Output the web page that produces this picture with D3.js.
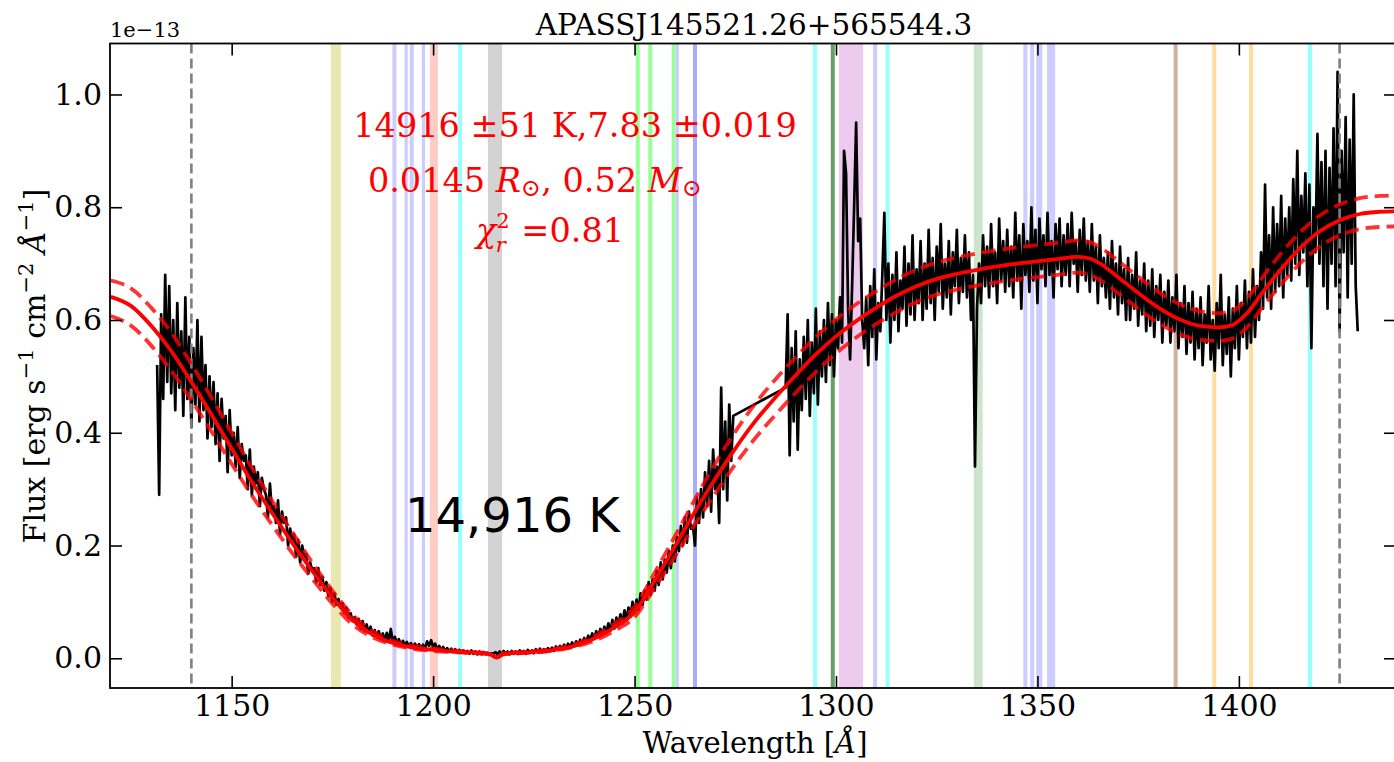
<!DOCTYPE html>
<html><head><meta charset="utf-8">
<script src="https://cdn.jsdelivr.net/npm/d3@7"></script>
<style>body{margin:0;background:#fff} svg{display:block}</style>
</head><body><svg id="c" width="1394" height="762"></svg>
<script>
// ---------------- data ----------------
const title = "APASSJ145521.26+565544.3";
const xTicks = [1150, 1200, 1250, 1300, 1350, 1400];
const yTicks = [0.0, 0.2, 0.4, 0.6, 0.8, 1.0];
const yScaleLabel = "1e\u221213";

// line-identification spans (Angstrom) and colours
const bandStart = [1174.6,1189.9,1192.9,1194.2,1197.2,1199.2,1206.2,1213.6,1250.3,1253.4,1259.2,1260.2,1264.5,1294.3,1298.7,1300.7,1309.2,1312.3,1334.2,1346.5,1348.2,1349.7,1352.4,1383.8,1393.4,1402.5,1417.1];
const bandEnd   = [1177.1,1190.9,1193.7,1195.2,1198.0,1201.2,1207.2,1217.1,1251.3,1254.4,1260.2,1261.0,1265.5,1295.3,1299.7,1306.7,1310.2,1313.3,1336.4,1347.5,1349.2,1351.2,1354.4,1384.8,1394.4,1403.5,1418.2];
const bandColor = ["#e8e8b0","#ccccff","#ccccff","#ccccff","#ccccff","#ffccc6","#99ffff","#d3d3d3","#99ff99","#99ff99","#99ff99","#ccccff","#aaaaff","#99ffff","#66a066","#eccbee","#ccccff","#99ffff","#cce5cc","#ccccff","#ccccff","#ccccff","#ccccff","#d4b0a0","#ffdca0","#ffdca0","#99ffff"];

// airglow / edge markers
const refLines = [1140, 1425];

// model spectrum (x 1e-13) and its upper / lower envelopes
const modelWave  = [1120,1125,1130,1135,1140,1145,1150,1155,1160,1165,1170,1175,1180,1185,1190,1195,1200,1205,1210,1214,1215.7,1217.5,1222,1228,1235,1240,1245,1250,1255,1260,1265,1270,1275,1280,1285,1290,1295,1300,1305,1310,1315,1320,1325,1330,1335,1340,1345,1350,1355,1360,1363,1366,1370,1375,1380,1385,1390,1395,1398,1402,1406,1410,1415,1420,1425,1430,1435,1440];
const modelFlux  = [0.641,0.625,0.590,0.545,0.490,0.432,0.372,0.313,0.258,0.205,0.155,0.108,0.068,0.042,0.027,0.019,0.015,0.012,0.010,0.008,0.001,0.008,0.010,0.013,0.022,0.035,0.055,0.082,0.138,0.198,0.260,0.318,0.372,0.421,0.463,0.502,0.539,0.571,0.598,0.622,0.643,0.660,0.673,0.682,0.689,0.695,0.700,0.704,0.708,0.712,0.709,0.698,0.676,0.648,0.622,0.602,0.590,0.587,0.590,0.612,0.650,0.686,0.726,0.757,0.777,0.788,0.792,0.793];
const modelUpper = [0.670,0.656,0.622,0.578,0.522,0.462,0.400,0.338,0.280,0.224,0.170,0.120,0.077,0.048,0.031,0.022,0.017,0.014,0.011,0.009,0.002,0.009,0.011,0.015,0.025,0.039,0.061,0.091,0.152,0.216,0.282,0.345,0.402,0.452,0.495,0.534,0.570,0.601,0.628,0.651,0.672,0.689,0.702,0.711,0.718,0.724,0.729,0.733,0.737,0.741,0.738,0.727,0.705,0.677,0.650,0.629,0.616,0.612,0.615,0.638,0.677,0.714,0.754,0.785,0.805,0.816,0.820,0.821];
const modelLower = [0.607,0.590,0.555,0.510,0.458,0.402,0.345,0.289,0.237,0.187,0.141,0.097,0.060,0.037,0.024,0.017,0.013,0.011,0.009,0.007,0.001,0.007,0.009,0.012,0.020,0.031,0.049,0.073,0.125,0.180,0.238,0.292,0.344,0.391,0.432,0.471,0.508,0.541,0.569,0.593,0.614,0.632,0.645,0.654,0.661,0.667,0.672,0.676,0.680,0.684,0.680,0.669,0.648,0.620,0.595,0.576,0.565,0.563,0.566,0.587,0.624,0.659,0.699,0.730,0.750,0.761,0.765,0.766];

// observed spectrum (x 1e-13), two detector segments sampled every 0.5 A
const specStep = 0.5;
const specAStart = 1131.5;
const specA = [
0.52,0.29,0.61,0.46,0.68,0.49,0.66,0.47,0.60,0.44,
0.63,0.48,0.58,0.43,0.64,0.46,0.57,0.41,0.55,0.45,
0.60,0.42,0.57,0.44,0.52,0.39,0.50,0.41,0.49,0.38,
0.47,0.35,0.46,0.39,0.43,0.33,0.44,0.36,0.40,0.34,
0.41,0.32,0.38,0.35,0.36,0.30,0.37,0.29,0.34,0.31,
0.33,0.27,0.32,0.30,0.29,0.25,0.31,0.26,0.27,0.24,
0.28,0.22,0.26,0.24,0.25,0.20,0.23,0.21,0.22,0.18,
0.21,0.17,0.20,0.18,0.185,0.15,0.17,0.155,0.16,0.135,
0.16,0.13,0.145,0.12,0.135,0.11,0.125,0.10,0.115,0.095,
0.105,0.09,0.098,0.08,0.09,0.072,0.08,0.066,0.073,0.06,
0.07,0.052,0.066,0.048,0.06,0.045,0.056,0.04,0.05,0.038,
0.048,0.035,0.044,0.032,0.045,0.03,0.052,0.028,0.038,0.026,
0.034,0.024,0.031,0.022,0.029,0.021,0.027,0.02,0.026,0.018,
0.025,0.018,0.024,0.017,0.03,0.022,0.032,0.02,0.026,0.016,
0.022,0.014,0.02,0.013,0.018,0.012,0.017,0.011,0.016,0.01,
0.015,0.01,0.014,0.009,0.013,0.008,0.014,0.008,0.012,0.007,
0.012,0.007,0.011,0.008,0.010,0.006,0.009,0.008,0.011,0.006,
0.012,0.007,0.013,0.008,0.012,0.007,0.013,0.008,0.012,0.008,
0.014,0.009,0.013,0.008,0.015,0.01,0.014,0.009,0.016,0.011,
0.017,0.011,0.016,0.012,0.018,0.013,0.019,0.013,0.021,0.015,
0.022,0.016,0.024,0.018,0.026,0.019,0.028,0.021,0.03,0.023,
0.033,0.026,0.036,0.029,0.04,0.032,0.044,0.035,0.048,0.038,
0.052,0.041,0.056,0.045,0.062,0.049,0.068,0.053,0.072,0.058,
0.078,0.062,0.085,0.068,0.09,0.074,0.1,0.08,0.104,0.086,
0.115,0.095,0.12,0.104,0.135,0.112,0.14,0.12,0.155,0.13,
0.17,0.14,0.175,0.152,0.19,0.16,0.2,0.172,0.215,0.19,
0.235,0.2,0.25,0.205,0.26,0.23,0.235,0.2,0.285,0.24,
0.3,0.25,0.33,0.27,0.35,0.26,0.37,0.3,0.34,0.24,
0.48,0.3,0.42,0.28,0.45,0.35,0.43];
const specBStart = 1287.5;
const specB = [
0.48,0.61,0.36,0.55,0.42,0.58,0.37,0.53,0.44,0.57,
0.46,0.6,0.43,0.56,0.47,0.62,0.45,0.58,0.5,0.6,
0.49,0.63,0.52,0.61,0.5,0.6,0.55,0.64,0.56,0.90,
0.86,0.62,0.53,0.66,0.80,0.95,0.74,0.78,0.60,0.55,
0.64,0.52,0.66,0.57,0.69,0.53,0.63,0.58,0.68,0.79,
0.6,0.7,0.56,0.68,0.6,0.72,0.58,0.67,0.62,0.73,
0.59,0.7,0.61,0.75,0.6,0.69,0.63,0.74,0.6,0.7,
0.62,0.76,0.63,0.71,0.6,0.73,0.65,0.77,0.62,0.7,
0.64,0.74,0.61,0.72,0.66,0.76,0.63,0.71,0.65,0.75,
0.64,0.72,0.6,0.68,0.34,0.62,0.7,0.63,0.75,0.66,
0.73,0.64,0.77,0.66,0.72,0.63,0.78,0.67,0.74,0.65,
0.76,0.66,0.73,0.64,0.79,0.67,0.75,0.62,0.77,0.68,
0.74,0.65,0.8,0.67,0.76,0.63,0.78,0.69,0.75,0.66,
0.79,0.68,0.74,0.64,0.77,0.69,0.78,0.66,0.75,0.68,
0.77,0.66,0.79,0.7,0.74,0.65,0.76,0.68,0.78,0.67,
0.74,0.65,0.77,0.67,0.73,0.63,0.75,0.66,0.71,0.64,
0.72,0.62,0.74,0.64,0.7,0.61,0.73,0.63,0.69,0.6,
0.71,0.6,0.68,0.62,0.72,0.59,0.67,0.61,0.7,0.58,
0.67,0.59,0.69,0.57,0.66,0.6,0.68,0.56,0.65,0.59,
0.67,0.56,0.64,0.58,0.68,0.55,0.63,0.57,0.66,0.54,
0.63,0.56,0.65,0.53,0.62,0.55,0.64,0.52,0.61,0.56,
0.66,0.53,0.6,0.51,0.63,0.55,0.68,0.52,0.61,0.54,
0.64,0.5,0.62,0.55,0.66,0.53,0.63,0.57,0.67,0.55,
0.65,0.56,0.69,0.57,0.66,0.6,0.72,0.62,0.84,0.64,
0.75,0.62,0.8,0.65,0.77,0.66,0.82,0.64,0.78,0.68,
0.8,0.67,0.85,0.7,0.9,0.68,0.82,0.72,0.86,0.66,
0.84,0.55,0.8,0.72,0.93,0.7,0.88,0.66,0.9,0.62,
0.87,0.7,0.94,0.66,1.04,0.58,0.9,0.72,0.96,0.64,
0.92,0.7,1.0,0.66,0.58];

const fitLines = ["14916 \u00B151 K,7.83 \u00B10.019"];
const tempLabel = "14,916 K";

// ---------------- drawing ----------------
const m = {l: 110, r: 1396, t: 43.5, b: 688};
const serif = "'DejaVu Serif', serif";
const svg = d3.select("#c");

const x = d3.scaleLinear().domain([1119.8, 1439.0]).range([m.l, m.r]);
const y = d3.scaleLinear().domain([-0.0527, 1.0904]).range([m.b, m.t]);

svg.append("defs").append("clipPath").attr("id", "plot")
  .append("rect").attr("x", m.l).attr("y", m.t).attr("width", m.r - m.l).attr("height", m.b - m.t);

const plot = svg.append("g").attr("clip-path", "url(#plot)");

// bands
plot.selectAll("rect.band").data(bandStart.map((s, i) => ({s, e: bandEnd[i], c: bandColor[i]})))
  .join("rect").attr("class", "band")
  .attr("x", d => x(d.s)).attr("width", d => x(d.e) - x(d.s))
  .attr("y", m.t).attr("height", m.b - m.t).attr("fill", d => d.c);

// spectrum
const spec = specA.map((v, i) => [specAStart + i * specStep, v])
  .concat(specB.map((v, i) => [specBStart + i * specStep, v]));
plot.append("path").datum(spec)
  .attr("d", d3.line().x(d => x(d[0])).y(d => y(d[1])))
  .attr("fill", "none").attr("stroke", "#000").attr("stroke-width", 2.7).attr("stroke-linejoin", "round");

// reference dashed lines
plot.selectAll("line.ref").data(refLines).join("line").attr("class", "ref")
  .attr("x1", d => x(d)).attr("x2", d => x(d)).attr("y1", m.t).attr("y2", m.b)
  .attr("stroke", "#808080").attr("stroke-width", 2.6).attr("stroke-dasharray", "10,5");

// model
const mline = () => d3.line().curve(d3.curveMonotoneX)
  .x((d, i) => x(modelWave[i])).y(d => y(d));
plot.append("path").datum(modelFlux).attr("d", mline())
  .attr("fill", "none").attr("stroke", "#ff0000").attr("stroke-width", 3.8);
[modelUpper, modelLower].forEach(arr => {
  plot.append("path").datum(arr).attr("d", mline())
    .attr("fill", "none").attr("stroke", "#ff0000").attr("stroke-opacity", 0.8)
    .attr("stroke-width", 3.8).attr("stroke-dasharray", "14,7");
});

// axes
const tickFont = 30;
function styleAxis(g) {
  g.select(".domain").remove();
  g.selectAll("line").attr("stroke", "#000").attr("stroke-width", 1.6);
  g.selectAll("text").attr("font-family", serif).attr("font-size", tickFont).attr("fill", "#000");
}
svg.append("g").attr("transform", `translate(0,${m.b})`)
  .call(d3.axisBottom(x).tickValues(xTicks).tickFormat(d3.format("d")).tickSizeInner(-12).tickSizeOuter(0).tickPadding(7))
  .call(styleAxis);
svg.append("g").attr("transform", `translate(0,${m.t})`)
  .call(d3.axisTop(x).tickValues(xTicks).tickFormat("").tickSizeInner(-12).tickSizeOuter(0))
  .call(styleAxis);
svg.append("g").attr("transform", `translate(${m.l},0)`)
  .call(d3.axisLeft(y).tickValues(yTicks).tickFormat(d3.format(".1f")).tickSizeInner(-12).tickSizeOuter(0).tickPadding(8))
  .call(styleAxis);
svg.append("g").attr("transform", `translate(${m.r},0)`)
  .call(d3.axisRight(y).tickValues(yTicks).tickFormat("").tickSizeInner(-12).tickSizeOuter(0))
  .call(styleAxis);

// frame
svg.append("rect").attr("x", m.l).attr("y", m.t).attr("width", m.r - m.l).attr("height", m.b - m.t)
  .attr("fill", "none").attr("stroke", "#000").attr("stroke-width", 1.8);

// offset label
svg.append("text").attr("x", m.l).attr("y", 37).attr("font-family", serif).attr("font-size", 21)
  .text(yScaleLabel);

// title
svg.append("text").attr("x", 754).attr("y", 35).attr("text-anchor", "middle")
  .attr("font-family", serif).attr("font-size", 29.5).text(title);

// x label
const xl = svg.append("text").attr("x", 755).attr("y", 753).attr("text-anchor", "middle")
  .attr("font-family", serif).attr("font-size", 29);
xl.append("tspan").text("Wavelength [");
xl.append("tspan").attr("font-style", "italic").text("\u00C5");
xl.append("tspan").text("]");

// y label
const ys = 21, yd = 12;
const yl = svg.append("text").attr("transform", "translate(45,366) rotate(-90)").attr("text-anchor", "middle")
  .attr("font-family", serif).attr("font-size", 30);
yl.append("tspan").text("Flux [erg s");
yl.append("tspan").attr("font-size", ys).attr("dy", -yd).text("\u22121");
yl.append("tspan").attr("dy", yd).text(" cm");
yl.append("tspan").attr("font-size", ys).attr("dy", -yd).text("\u22122");
yl.append("tspan").attr("dy", yd).text(" ");
yl.append("tspan").attr("font-style", "italic").text("\u00C5");
yl.append("tspan").attr("font-size", ys).attr("dy", -yd).text("\u22121");
yl.append("tspan").attr("dy", yd).text("]");

// fit annotation (red)
const rf = 33.5;
svg.append("text").attr("x", 575).attr("y", 137).attr("text-anchor", "middle")
  .attr("font-family", serif).attr("font-size", rf).attr("fill", "#ff0000").text(fitLines[0]);
const l2 = svg.append("text").attr("x", 535).attr("y", 192).attr("text-anchor", "middle")
  .attr("font-family", serif).attr("font-size", rf).attr("fill", "#ff0000");
l2.append("tspan").text("0.0145 ");
l2.append("tspan").attr("font-style", "italic").text("R");
l2.append("tspan").attr("font-size", 24).attr("dy", 4).text("\u2299");
l2.append("tspan").attr("dy", -4).text(", 0.52 ");
l2.append("tspan").attr("font-style", "italic").text("M");
l2.append("tspan").attr("font-size", 24).attr("dy", 4).text("\u2299");
const l3 = svg.append("text").attr("x", 550).attr("y", 242).attr("text-anchor", "middle")
  .attr("font-family", serif).attr("font-size", rf).attr("fill", "#ff0000");
l3.append("tspan").attr("font-style", "italic").text("\u03C7");
l3.append("tspan").attr("font-size", 21).attr("dy", -14).text("2");
l3.append("tspan").attr("font-size", 21).attr("font-style", "italic").attr("dx", -14).attr("dy", 24).text("r");
l3.append("tspan").attr("dy", -10).attr("dx", 5).text(" =0.81");

// temperature label
svg.append("text").attr("x", 405).attr("y", 532).attr("font-family", "'DejaVu Sans', sans-serif")
  .attr("font-size", 48).attr("fill", "#000").text(tempLabel);
</script>
</body></html>
